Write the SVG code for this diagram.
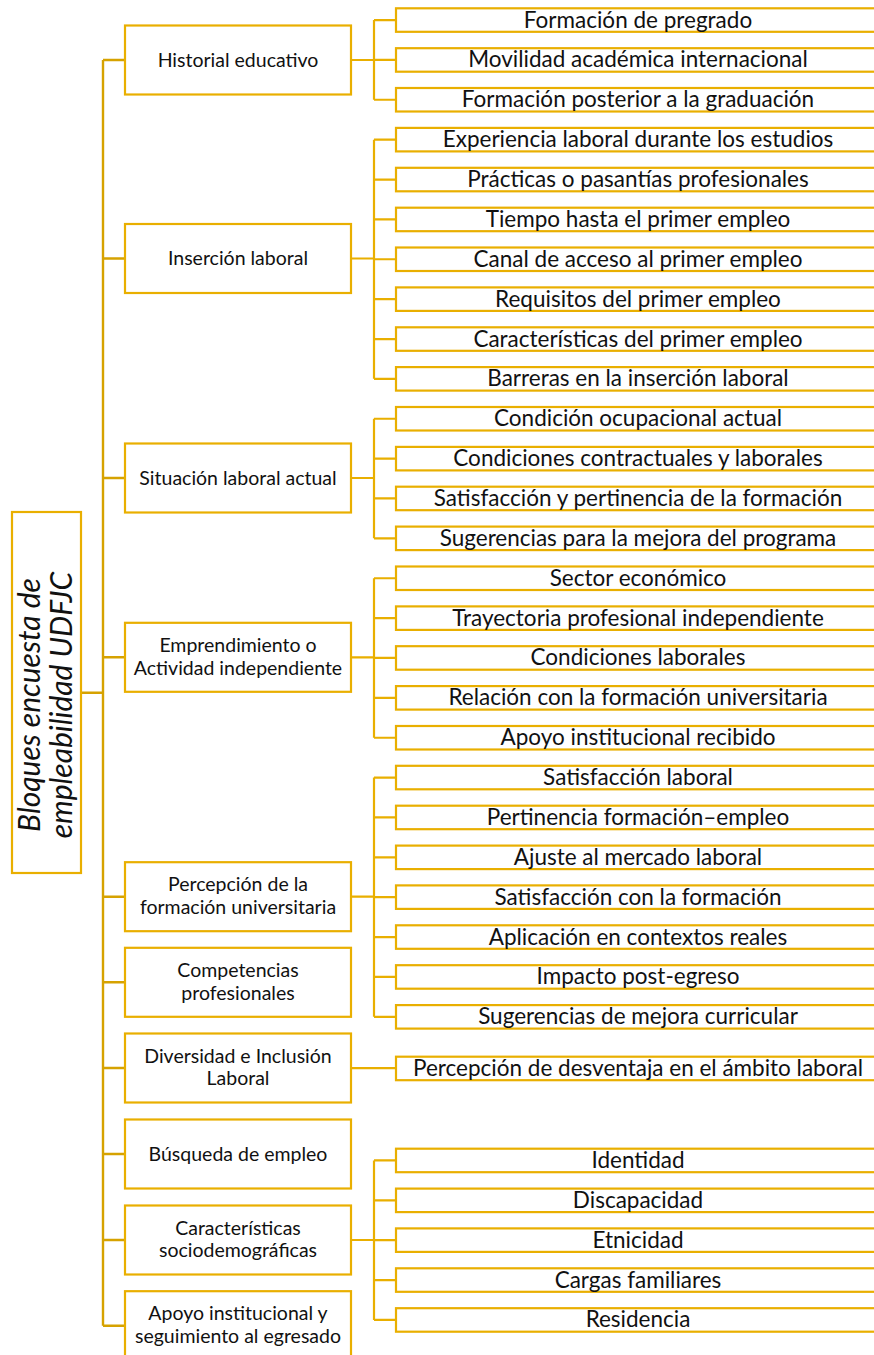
<svg xmlns="http://www.w3.org/2000/svg" width="874" height="1355" viewBox="0 0 874 1355">
<style>
.box{fill:#fff;stroke:#E9AF00;stroke-width:2.2}
.root{fill:#fff;stroke:#E9AF00;stroke-width:2.2}
.ct{font-family:Lato,"Liberation Sans",sans-serif;font-size:19.5px;fill:#111;text-anchor:middle}
.st{font-family:Lato,"Liberation Sans",sans-serif;font-size:22.5px;fill:#111;text-anchor:middle}
.rt{font-family:Lato,"Liberation Sans",sans-serif;font-size:30px;font-style:italic;fill:#111;text-anchor:middle}
.main{fill:none;stroke:#D6A200;stroke-width:2.4}
.sub{fill:none;stroke:#E9AF00;stroke-width:2.2}
</style>
<g id="connectors">
<path class="main" d="M103,60 V1325.7 M81,692.7 H103 M103,60 H125 M103,258.5 H125 M103,478 H125 M103,657.3 H125 M103,896.7 H125 M103,982.3 H125 M103,1068 H125 M103,1154 H125 M103,1240 H125 M103,1325.7 H125"/>
<path class="sub" d="M351,60 H374 M374,20.05 V99.75 M374,20.05 H396 M374,59.95 H396 M374,99.75 H396"/>
<path class="sub" d="M351,258.5 H374 M374,139.65 V378.85 M374,139.65 H396 M374,179.55 H396 M374,219.45 H396 M374,259.25 H396 M374,299.15 H396 M374,339.05 H396 M374,378.85 H396"/>
<path class="sub" d="M351,478 H374 M374,418.75 V538.35 M374,418.75 H396 M374,458.65 H396 M374,498.45 H396 M374,538.35 H396"/>
<path class="sub" d="M351,657.3 H374 M374,578.25 V737.75 M374,578.25 H396 M374,618.15 H396 M374,657.95 H396 M374,697.85 H396 M374,737.75 H396"/>
<path class="sub" d="M351,896.7 H374 M374,777.55 V1016.85 M374,777.55 H396 M374,817.45 H396 M374,857.35 H396 M374,897.15 H396 M374,937.05 H396 M374,976.95 H396 M374,1016.85 H396"/>
<path class="sub" d="M351,1068.2 H396"/>
<path class="sub" d="M351,1240 H374 M374,1160.45 V1319.95 M374,1160.45 H396 M374,1200.35 H396 M374,1240.15 H396 M374,1280.05 H396 M374,1319.95 H396"/>
</g>
<g id="root">
<rect class="root" x="12" y="512" width="69" height="361"/>
<g transform="translate(46.5,705) rotate(-90)">
<text class="rt" x="0" y="-6.5">Bloques encuesta de</text>
<text class="rt" x="0" y="25">empleabilidad UDFJC</text>
</g>
</g>
<g id="cat-historial"><rect class="box" x="125" y="25.5" width="226" height="69"/><text class="ct" x="238" y="66.7">Historial educativo</text></g>
<g id="cat-insercion"><rect class="box" x="125" y="224" width="226" height="69"/><text class="ct" x="238" y="265.2">Inserción laboral</text></g>
<g id="cat-situacion"><rect class="box" x="125" y="443.5" width="226" height="69"/><text class="ct" x="238" y="484.7">Situación laboral actual</text></g>
<g id="cat-emprendimiento"><rect class="box" x="125" y="622.8" width="226" height="69"/><text class="ct" x="238" y="652">Emprendimiento o</text><text class="ct" x="238" y="674.6">Actividad independiente</text></g>
<g id="cat-percepcion"><rect class="box" x="125" y="862.2" width="226" height="69"/><text class="ct" x="238" y="891.4">Percepción de la</text><text class="ct" x="238" y="914">formación universitaria</text></g>
<g id="cat-competencias"><rect class="box" x="125" y="947.8" width="226" height="69"/><text class="ct" x="238" y="977">Competencias</text><text class="ct" x="238" y="999.6">profesionales</text></g>
<g id="cat-diversidad"><rect class="box" x="125" y="1033.5" width="226" height="69"/><text class="ct" x="238" y="1062.7">Diversidad e Inclusión</text><text class="ct" x="238" y="1085.3">Laboral</text></g>
<g id="cat-busqueda"><rect class="box" x="125" y="1119.5" width="226" height="69"/><text class="ct" x="238" y="1160.7">Búsqueda de empleo</text></g>
<g id="cat-caracteristicas"><rect class="box" x="125" y="1205.5" width="226" height="69"/><text class="ct" x="238" y="1234.7">Características</text><text class="ct" x="238" y="1257.3">sociodemográficas</text></g>
<g id="cat-apoyo"><rect class="box" x="125" y="1291.2" width="226" height="69"/><text class="ct" x="238" y="1320.2">Apoyo institucional y</text><text class="ct" x="238" y="1342.8">seguimiento al egresado</text></g>
<g id="sub-historial">
<rect class="box" x="396" y="8.3" width="484" height="23.5"/><text class="st" x="638" y="27.5">Formación de pregrado</text>
<rect class="box" x="396" y="48.2" width="484" height="23.5"/><text class="st" x="638" y="67.4">Movilidad académica internacional</text>
<rect class="box" x="396" y="88" width="484" height="23.5"/><text class="st" x="638" y="107.2">Formación posterior a la graduación</text>
</g>
<g id="sub-insercion">
<rect class="box" x="396" y="127.9" width="484" height="23.5"/><text class="st" x="638" y="147.1">Experiencia laboral durante los estudios</text>
<rect class="box" x="396" y="167.8" width="484" height="23.5"/><text class="st" x="638" y="187">Prácticas o pasantías profesionales</text>
<rect class="box" x="396" y="207.7" width="484" height="23.5"/><text class="st" x="638" y="226.9">Tiempo hasta el primer empleo</text>
<rect class="box" x="396" y="247.5" width="484" height="23.5"/><text class="st" x="638" y="266.7">Canal de acceso al primer empleo</text>
<rect class="box" x="396" y="287.4" width="484" height="23.5"/><text class="st" x="638" y="306.6">Requisitos del primer empleo</text>
<rect class="box" x="396" y="327.3" width="484" height="23.5"/><text class="st" x="638" y="346.5">Características del primer empleo</text>
<rect class="box" x="396" y="367.1" width="484" height="23.5"/><text class="st" x="638" y="386.3">Barreras en la inserción laboral</text>
</g>
<g id="sub-situacion">
<rect class="box" x="396" y="407" width="484" height="23.5"/><text class="st" x="638" y="426.2">Condición ocupacional actual</text>
<rect class="box" x="396" y="446.9" width="484" height="23.5"/><text class="st" x="638" y="466.1">Condiciones contractuales y laborales</text>
<rect class="box" x="396" y="486.7" width="484" height="23.5"/><text class="st" x="638" y="505.9">Satisfacción y pertinencia de la formación</text>
<rect class="box" x="396" y="526.6" width="484" height="23.5"/><text class="st" x="638" y="545.8">Sugerencias para la mejora del programa</text>
</g>
<g id="sub-emprendimiento">
<rect class="box" x="396" y="566.5" width="484" height="23.5"/><text class="st" x="638" y="585.7">Sector económico</text>
<rect class="box" x="396" y="606.4" width="484" height="23.5"/><text class="st" x="638" y="625.6">Trayectoria profesional independiente</text>
<rect class="box" x="396" y="646.2" width="484" height="23.5"/><text class="st" x="638" y="665.4">Condiciones laborales</text>
<rect class="box" x="396" y="686.1" width="484" height="23.5"/><text class="st" x="638" y="705.3">Relación con la formación universitaria</text>
<rect class="box" x="396" y="726" width="484" height="23.5"/><text class="st" x="638" y="745.2">Apoyo institucional recibido</text>
</g>
<g id="sub-percepcion">
<rect class="box" x="396" y="765.8" width="484" height="23.5"/><text class="st" x="638" y="785">Satisfacción laboral</text>
<rect class="box" x="396" y="805.7" width="484" height="23.5"/><text class="st" x="638" y="824.9">Pertinencia formación–empleo</text>
<rect class="box" x="396" y="845.6" width="484" height="23.5"/><text class="st" x="638" y="864.8">Ajuste al mercado laboral</text>
<rect class="box" x="396" y="885.4" width="484" height="23.5"/><text class="st" x="638" y="904.6">Satisfacción con la formación</text>
<rect class="box" x="396" y="925.3" width="484" height="23.5"/><text class="st" x="638" y="944.5">Aplicación en contextos reales</text>
<rect class="box" x="396" y="965.2" width="484" height="23.5"/><text class="st" x="638" y="984.4">Impacto post-egreso</text>
<rect class="box" x="396" y="1005.1" width="484" height="23.5"/><text class="st" x="638" y="1024.3">Sugerencias de mejora curricular</text>
</g>
<g id="sub-diversidad">
<rect class="box" x="396" y="1056.7" width="484" height="23.5"/><text class="st" x="638" y="1075.9">Percepción de desventaja en el ámbito laboral</text>
</g>
<g id="sub-caracteristicas">
<rect class="box" x="396" y="1148.7" width="484" height="23.5"/><text class="st" x="638" y="1167.9">Identidad</text>
<rect class="box" x="396" y="1188.6" width="484" height="23.5"/><text class="st" x="638" y="1207.8">Discapacidad</text>
<rect class="box" x="396" y="1228.4" width="484" height="23.5"/><text class="st" x="638" y="1247.6">Etnicidad</text>
<rect class="box" x="396" y="1268.3" width="484" height="23.5"/><text class="st" x="638" y="1287.5">Cargas familiares</text>
<rect class="box" x="396" y="1308.2" width="484" height="23.5"/><text class="st" x="638" y="1327.4">Residencia</text>
</g>
</svg>
